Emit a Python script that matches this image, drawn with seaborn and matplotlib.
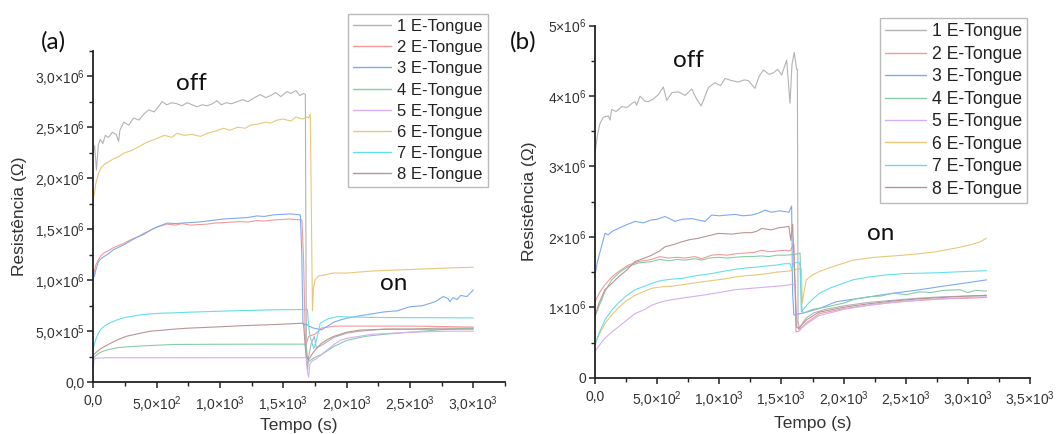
import matplotlib
matplotlib.use("Agg")
import matplotlib.pyplot as plt
from matplotlib.ticker import AutoMinorLocator
import pandas as pd
import seaborn as sns

# ---------------- sensor labels and colours ----------------
labels = ["1 E-Tongue", "2 E-Tongue", "3 E-Tongue", "4 E-Tongue",
          "5 E-Tongue", "6 E-Tongue", "7 E-Tongue", "8 E-Tongue"]
colors = ["#b3b3b3", "#f39a9a", "#7eaaf2", "#88cca8",
          "#d6aef2", "#e9c77a", "#62e0e8", "#ba9494"]

# ---------------- panel (a): time (s) and resistance (MOhm) ----------------
a1_t = [0, 10, 25, 40, 55, 75, 95, 120, 150, 180, 200, 210, 240, 280, 318, 360, 400, 437, 480, 520,
        542, 580, 620, 660, 700, 740, 780, 818, 860, 900, 940, 976, 1010, 1050, 1090, 1134, 1180,
        1220, 1260, 1318, 1360, 1400, 1440, 1480, 1529, 1560, 1600, 1630, 1660, 1674, 1682, 1692,
        1700, 1720, 1745, 1760, 1800, 1850, 1900, 2000, 2100, 2300, 2500, 2700, 3000]
a1_r = [2.25, 2.32, 2.08, 2.33, 2.38, 2.34, 2.42, 2.40, 2.45, 2.43, 2.36, 2.47, 2.55, 2.52, 2.59,
        2.57, 2.63, 2.67, 2.65, 2.71, 2.75, 2.72, 2.74, 2.73, 2.71, 2.74, 2.72, 2.70, 2.72, 2.71,
        2.73, 2.76, 2.72, 2.74, 2.73, 2.75, 2.77, 2.75, 2.78, 2.82, 2.79, 2.81, 2.84, 2.80, 2.85,
        2.83, 2.86, 2.81, 2.83, 2.82, 0.30, 0.12, 0.25, 0.38, 0.45, 0.34, 0.36, 0.40, 0.44, 0.48,
        0.50, 0.52, 0.52, 0.53, 0.53]

a2_t = [0, 8, 20, 40, 60, 82, 120, 160, 200, 240, 300, 360, 400, 450, 500, 582, 650, 700, 766, 830,
        900, 960, 1029, 1100, 1160, 1220, 1292, 1350, 1420, 1480, 1555, 1600, 1647, 1660, 1675,
        1700, 1750, 1800, 1900, 2000, 2200, 2500, 2800, 3000]
a2_r = [1.05, 1.085, 1.15, 1.20, 1.24, 1.265, 1.29, 1.32, 1.34, 1.36, 1.40, 1.43, 1.46, 1.49, 1.52,
        1.55, 1.54, 1.555, 1.54, 1.545, 1.55, 1.56, 1.565, 1.57, 1.575, 1.57, 1.585, 1.58, 1.59,
        1.595, 1.60, 1.595, 1.59, 1.20, 0.35, 0.45, 0.47, 0.53, 0.55, 0.55, 0.55, 0.55, 0.545, 0.54]

a3_t = [0, 8, 20, 40, 60, 82, 120, 160, 213, 260, 300, 360, 400, 450, 500, 582, 650, 700, 766, 830,
        900, 960, 1029, 1100, 1160, 1220, 1292, 1350, 1420, 1480, 1555, 1600, 1634, 1645, 1655,
        1670, 1680, 1700, 1740, 1780, 1800, 1850, 1900, 1950, 2000, 2100, 2200, 2300, 2400, 2500,
        2600, 2700, 2763, 2800, 2815, 2840, 2870, 2900, 2950, 3000]
a3_r = [1.10, 1.035, 1.10, 1.18, 1.21, 1.23, 1.26, 1.30, 1.33, 1.36, 1.39, 1.43, 1.45, 1.49, 1.52,
        1.56, 1.555, 1.56, 1.565, 1.57, 1.58, 1.59, 1.60, 1.605, 1.61, 1.615, 1.63, 1.625, 1.64,
        1.645, 1.65, 1.645, 1.64, 1.30, 0.58, 0.56, 0.57, 0.55, 0.53, 0.52, 0.513, 0.55, 0.59,
        0.61, 0.627, 0.65, 0.67, 0.69, 0.70, 0.74, 0.75, 0.79, 0.84, 0.82, 0.79, 0.83, 0.81, 0.85,
        0.84, 0.905]

a4_t = [0, 10, 50, 108, 200, 371, 634, 1000, 1400, 1660, 1680, 1690, 1700, 1720, 1760, 1800, 1900,
        2000, 2150, 2300, 2500, 2800, 3000]
a4_r = [0.22, 0.25, 0.29, 0.317, 0.34, 0.355, 0.37, 0.372, 0.373, 0.373, 0.37, 0.25, 0.20, 0.22,
        0.25, 0.27, 0.35, 0.41, 0.45, 0.47, 0.49, 0.52, 0.53]

a5_t = [0, 5, 20, 100, 500, 1000, 1500, 1680, 1690, 1700, 1710, 1730, 1760, 1800, 1850, 1900, 1950,
        2000, 2200, 2500, 2800, 3000]
a5_r = [0.12, 0.22, 0.235, 0.24, 0.24, 0.24, 0.24, 0.24, 0.10, 0.05, 0.18, 0.21, 0.23, 0.27, 0.32,
        0.37, 0.41, 0.43, 0.47, 0.49, 0.50, 0.50]

a6_t = [0, 10, 20, 42, 60, 82, 120, 160, 200, 240, 300, 360, 420, 503, 560, 620, 660, 720, 780, 845,
        900, 960, 1029, 1080, 1140, 1200, 1240, 1300, 1360, 1400, 1450, 1500, 1560, 1600, 1650,
        1687, 1700, 1713, 1722, 1730, 1738, 1750, 1775, 1820, 1895, 2000, 2200, 2400, 2600, 2800,
        3000]
a6_r = [1.80, 1.86, 1.95, 2.05, 2.10, 2.13, 2.16, 2.19, 2.21, 2.245, 2.27, 2.31, 2.35, 2.39, 2.42,
        2.40, 2.44, 2.42, 2.43, 2.41, 2.44, 2.46, 2.49, 2.47, 2.50, 2.49, 2.52, 2.53, 2.55, 2.54,
        2.57, 2.58, 2.56, 2.60, 2.58, 2.60, 2.59, 2.63, 1.60, 0.70, 0.92, 1.00, 1.04, 1.05, 1.07,
        1.07, 1.09, 1.10, 1.11, 1.12, 1.127]

a7_t = [0, 3, 20, 40, 60, 82, 120, 187, 250, 300, 371, 450, 550, 634, 750, 850, 1029, 1200, 1424,
        1600, 1690, 1700, 1710, 1740, 1760, 1792, 1850, 1924, 2000, 2200, 2500, 2800, 3000]
a7_r = [0.33, 0.35, 0.42, 0.48, 0.52, 0.545, 0.575, 0.61, 0.635, 0.645, 0.66, 0.67, 0.677, 0.68,
        0.686, 0.69, 0.697, 0.703, 0.71, 0.712, 0.713, 0.55, 0.45, 0.33, 0.40, 0.58, 0.62, 0.643,
        0.64, 0.635, 0.633, 0.632, 0.63]

a8_t = [0, 3, 30, 60, 134, 200, 260, 371, 450, 550, 634, 750, 850, 1029, 1200, 1424, 1550, 1647,
        1660, 1670, 1680, 1700, 1740, 1800, 1850, 1900, 2000, 2100, 2300, 2500, 2800, 3000]
a8_r = [0.24, 0.27, 0.30, 0.33, 0.38, 0.42, 0.45, 0.48, 0.50, 0.51, 0.52, 0.53, 0.535, 0.545, 0.555,
        0.565, 0.572, 0.578, 0.57, 0.40, 0.25, 0.22, 0.30, 0.38, 0.42, 0.45, 0.49, 0.51, 0.52, 0.52,
        0.52, 0.52]

# ---------------- panel (b): time (s) and resistance (MOhm) ----------------
b1_t = [0, 6, 20, 40, 67, 107, 121, 134, 170, 215, 260, 300, 322, 335, 362, 400, 429, 470, 510, 550,
        577, 620, 671, 725, 778, 820, 855, 912, 965, 1010, 1046, 1100, 1153, 1200, 1234, 1287,
        1320, 1355, 1400, 1435, 1470, 1502, 1542, 1569, 1585, 1603, 1622, 1628, 1634, 1645, 1660,
        1700, 1760, 1850, 2000, 2200, 2400, 2600, 2800, 3000, 3150]
b1_r = [3.20, 3.26, 3.45, 3.61, 3.70, 3.72, 3.66, 3.81, 3.78, 3.85, 3.84, 3.90, 3.92, 3.87, 4.00,
        3.93, 3.92, 3.96, 4.02, 4.13, 3.94, 4.05, 4.06, 4.01, 4.10, 3.95, 3.86, 4.12, 4.19, 4.15,
        4.25, 4.22, 4.20, 4.23, 4.22, 4.11, 4.28, 4.37, 4.31, 4.33, 4.38, 4.30, 4.51, 3.90, 4.45,
        4.62, 4.38, 4.38, 0.80, 0.70, 0.75, 0.85, 0.92, 0.97, 1.02, 1.07, 1.10, 1.13, 1.15, 1.16,
        1.17]

b2_t = [0, 40, 80, 134, 200, 268, 350, 456, 520, 590, 660, 724, 800, 858, 938, 1000, 1060, 1126,
        1200, 1280, 1341, 1400, 1460, 1529, 1570, 1600, 1610, 1617, 1640, 1700, 1807, 2000, 2210,
        2400, 2615, 2800, 3000, 3150]
b2_r = [1.08, 1.22, 1.32, 1.43, 1.52, 1.60, 1.65, 1.68, 1.72, 1.70, 1.71, 1.70, 1.72, 1.69, 1.74,
        1.75, 1.74, 1.76, 1.77, 1.78, 1.81, 1.79, 1.80, 1.81, 1.80, 1.90, 1.30, 0.65, 0.66, 0.78,
        0.91, 0.98, 1.03, 1.07, 1.10, 1.12, 1.13, 1.14]

b3_t = [0, 20, 50, 80, 107, 140, 187, 250, 322, 389, 450, 500, 563, 600, 644, 700, 778, 830, 885,
        938, 1000, 1060, 1126, 1190, 1260, 1320, 1368, 1420, 1480, 1529, 1560, 1582, 1590, 1600,
        1700, 1800, 1942, 2100, 2210, 2400, 2615, 2800, 3000, 3151]
b3_r = [1.46, 1.65, 1.85, 2.05, 2.03, 2.08, 2.12, 2.17, 2.22, 2.20, 2.24, 2.25, 2.29, 2.26, 2.22,
        2.25, 2.26, 2.24, 2.22, 2.31, 2.30, 2.31, 2.32, 2.30, 2.31, 2.34, 2.38, 2.35, 2.37, 2.36,
        2.35, 2.44, 1.20, 0.89, 0.93, 0.98, 1.08, 1.12, 1.15, 1.20, 1.25, 1.30, 1.35, 1.39]

b4_t = [0, 40, 80, 134, 200, 268, 350, 456, 520, 600, 660, 724, 800, 858, 920, 991, 1060, 1126,
        1200, 1260, 1340, 1400, 1460, 1529, 1600, 1630, 1650, 1655, 1665, 1680, 1750, 1850, 2000,
        2100, 2210, 2300, 2400, 2500, 2615, 2700, 2800, 2935, 3000, 3060, 3150]
b4_r = [0.87, 1.05, 1.22, 1.39, 1.50, 1.58, 1.63, 1.65, 1.68, 1.66, 1.68, 1.67, 1.69, 1.67, 1.70,
        1.71, 1.70, 1.71, 1.72, 1.72, 1.73, 1.72, 1.74, 1.74, 1.75, 1.76, 1.77, 1.40, 0.95, 0.92,
        0.97, 1.00, 1.06, 1.12, 1.15, 1.16, 1.20, 1.18, 1.22, 1.21, 1.24, 1.25, 1.21, 1.24, 1.23]

b5_t = [0, 30, 80, 130, 187, 250, 322, 400, 456, 520, 590, 700, 858, 1000, 1126, 1260, 1394, 1460,
        1529, 1590, 1610, 1620, 1640, 1700, 1800, 2000, 2200, 2400, 2600, 2800, 3000, 3150]
b5_r = [0.37, 0.45, 0.56, 0.64, 0.72, 0.81, 0.91, 0.97, 1.03, 1.07, 1.10, 1.13, 1.17, 1.21, 1.25,
        1.27, 1.29, 1.30, 1.31, 1.33, 1.32, 0.90, 0.68, 0.76, 0.88, 0.97, 1.03, 1.07, 1.10, 1.12,
        1.14, 1.15]

b6_t = [0, 30, 80, 130, 187, 250, 322, 400, 456, 530, 617, 700, 780, 858, 940, 1030, 1126, 1220,
        1300, 1394, 1460, 1529, 1580, 1620, 1660, 1668, 1680, 1700, 1750, 1807, 1900, 2075, 2250,
        2477, 2600, 2746, 2900, 3014, 3100, 3148]
b6_r = [0.49, 0.60, 0.77, 0.88, 0.99, 1.09, 1.17, 1.23, 1.27, 1.29, 1.30, 1.32, 1.34, 1.36, 1.38,
        1.40, 1.43, 1.45, 1.46, 1.48, 1.50, 1.51, 1.52, 1.54, 1.55, 1.06, 1.20, 1.39, 1.46, 1.51,
        1.57, 1.67, 1.71, 1.74, 1.76, 1.79, 1.84, 1.885, 1.93, 1.98]

b7_t = [0, 30, 80, 130, 187, 250, 322, 400, 456, 530, 617, 700, 780, 858, 940, 1030, 1126, 1220,
        1300, 1394, 1460, 1529, 1570, 1585, 1600, 1640, 1650, 1660, 1680, 1720, 1760, 1807, 1900,
        2075, 2200, 2343, 2500, 2746, 3000, 3150]
b7_r = [0.46, 0.62, 0.82, 0.95, 1.06, 1.16, 1.25, 1.30, 1.34, 1.38, 1.40, 1.41, 1.44, 1.46, 1.48,
        1.51, 1.54, 1.56, 1.57, 1.59, 1.60, 1.62, 1.62, 1.52, 1.63, 1.64, 1.60, 0.94, 0.98, 1.06,
        1.13, 1.20, 1.28, 1.39, 1.43, 1.46, 1.48, 1.49, 1.51, 1.52]

b8_t = [0, 30, 80, 130, 187, 250, 322, 400, 456, 520, 563, 630, 697, 760, 831, 900, 991, 1100,
        1200, 1260, 1300, 1341, 1420, 1480, 1529, 1560, 1575, 1590, 1610, 1620, 1640, 1700, 1800,
        2000, 2200, 2400, 2600, 2800, 3000, 3150]
b8_r = [0.87, 1.05, 1.25, 1.33, 1.43, 1.52, 1.65, 1.70, 1.74, 1.80, 1.86, 1.89, 1.93, 1.96, 1.98,
        2.01, 2.05, 2.04, 2.06, 2.06, 2.08, 2.12, 2.10, 2.13, 2.14, 2.15, 1.95, 2.18, 1.30, 0.72,
        0.70, 0.82, 0.93, 1.00, 1.05, 1.09, 1.12, 1.14, 1.16, 1.17]

# ---------------- ticks ----------------
a_xticks = [0, 500, 1000, 1500, 2000, 2500, 3000]
a_xticklabels = ["0,0", "5,0×10$^{2}$", "1,0×10$^{3}$", "1,5×10$^{3}$", "2,0×10$^{3}$",
                 "2,5×10$^{3}$", "3,0×10$^{3}$"]
a_yticks = [0, 0.5e6, 1.0e6, 1.5e6, 2.0e6, 2.5e6, 3.0e6]
a_yticklabels = ["0,0", "5,0×10$^{5}$", "1,0×10$^{6}$", "1,5×10$^{6}$", "2,0×10$^{6}$",
                 "2,5×10$^{6}$", "3,0×10$^{6}$"]
b_xticks = [0, 500, 1000, 1500, 2000, 2500, 3000, 3500]
b_xticklabels = ["0,0", "5,0×10$^{2}$", "1,0×10$^{3}$", "1,5×10$^{3}$", "2,0×10$^{3}$",
                 "2,5×10$^{3}$", "3,0×10$^{3}$", "3,5×10$^{3}$"]
b_yticks = [0, 1e6, 2e6, 3e6, 4e6, 5e6]
b_yticklabels = ["0", "1×10$^{6}$", "2×10$^{6}$", "3×10$^{6}$", "4×10$^{6}$", "5×10$^{6}$"]

XCOL, YCOL, HUE = "Tempo (s)", "Resistência (Ω)", "Sensor"


def build_frame(times, values):
    rows = []
    for name, ts, vs in zip(labels, times, values):
        for t, v in zip(ts, vs):
            rows.append((name, t, v * 1e6))
    return pd.DataFrame(rows, columns=[HUE, XCOL, YCOL])


df_a = build_frame([a1_t, a2_t, a3_t, a4_t, a5_t, a6_t, a7_t, a8_t],
                   [a1_r, a2_r, a3_r, a4_r, a5_r, a6_r, a7_r, a8_r])
df_b = build_frame([b1_t, b2_t, b3_t, b4_t, b5_t, b6_t, b7_t, b8_t],
                   [b1_r, b2_r, b3_r, b4_r, b5_r, b6_r, b7_r, b8_r])

sns.set_theme(style="ticks")
plt.rcParams["font.family"] = ["Liberation Sans", "DejaVu Sans"]
plt.rcParams["mathtext.fontset"] = "custom"
plt.rcParams["mathtext.rm"] = "Liberation Sans"
plt.rcParams["mathtext.it"] = "Liberation Sans:italic"
plt.rcParams["mathtext.bf"] = "Liberation Sans:bold"

W, H = 1058, 434
fig = plt.figure(figsize=(W / 100, H / 100), dpi=100)
fig.patch.set_facecolor("white")


def px_axes(left, top, right, bottom):
    return fig.add_axes([left / W, 1 - bottom / H, (right - left) / W, (bottom - top) / H])


ax_a = px_axes(93.3, 50.7, 505, 382.2)
ax_b = px_axes(595, 25.7, 1030, 377.7)

palette = dict(zip(labels, colors))


def style_axis(ax, df, xlim, ylim, xt, xtl, yt, ytl, ylab_x, legend_box, legend_fs, spacing):
    sns.lineplot(data=df, x=XCOL, y=YCOL, hue=HUE, hue_order=labels, palette=palette,
                 estimator=None, sort=False, linewidth=0.8, ax=ax)
    ax.set_xlim(*xlim)
    ax.set_ylim(*ylim)
    ax.set_xticks(xt)
    ax.set_xticklabels(xtl)
    ax.set_yticks(yt)
    ax.set_yticklabels(ytl)
    ax.xaxis.set_minor_locator(AutoMinorLocator(2))
    ax.yaxis.set_minor_locator(AutoMinorLocator(2))
    ax.tick_params(which="major", direction="out", length=4.5, width=1.1, colors="#222222",
                   labelsize=10, labelcolor="#333333")
    ax.tick_params(which="minor", direction="out", length=2.8, width=1.0, colors="#222222")
    ax.tick_params(axis="y", which="major", pad=1.5)
    ax.tick_params(axis="x", which="major", pad=4)
    sns.despine(ax=ax)
    for side in ("left", "bottom"):
        ax.spines[side].set_linewidth(1.3)
        ax.spines[side].set_color("#222222")
    ax.set_xlabel(XCOL, fontsize=12.5, color="#333333")
    ax.set_ylabel(YCOL, fontsize=12.5, color="#333333")
    ax.xaxis.set_label_coords(0.5, -0.108)
    ax.yaxis.set_label_coords(ylab_x, 0.5)
    ax.set_facecolor("white")
    handles, labs = ax.get_legend_handles_labels()
    ax.get_legend().remove()
    leg = fig.legend(handles, labs, loc="upper left",
                     bbox_to_anchor=(legend_box[0] / W, 1 - legend_box[1] / H),
                     bbox_transform=fig.transFigure, fontsize=legend_fs, frameon=True,
                     fancybox=False, borderaxespad=0, borderpad=0.3, labelspacing=spacing,
                     handlelength=2.3, handletextpad=0.35)
    leg.get_frame().set_edgecolor("#aaaaaa")
    leg.get_frame().set_linewidth(1.0)
    for ln in leg.get_lines():
        ln.set_linewidth(1.0)
    for tx in leg.get_texts():
        tx.set_color("#222222")


style_axis(ax_a, df_a, (0, 3250), (0, 3.25e6), a_xticks, a_xticklabels, a_yticks, a_yticklabels,
           -0.161, (348, 14), 12, 0.37)
style_axis(ax_b, df_b, (0, 3500), (0, 5e6), b_xticks, b_xticklabels, b_yticks, b_yticklabels,
           -0.133, (880, 18), 12.7, 0.31)

# panel letters and state annotations
note_font = ["Lato", "DejaVu Sans"]
for text, x, y in [("(a)", 53, 42), ("off", 191, 83), ("on", 394, 283),
                   ("(b)", 523, 42), ("off", 688, 60), ("on", 881, 234)]:
    fig.text(x / W, 1 - y / H, text, ha="center", va="center", fontsize=17.5,
             family=note_font, color="#111111")

fig.savefig("out.png", dpi=100, facecolor="white")
